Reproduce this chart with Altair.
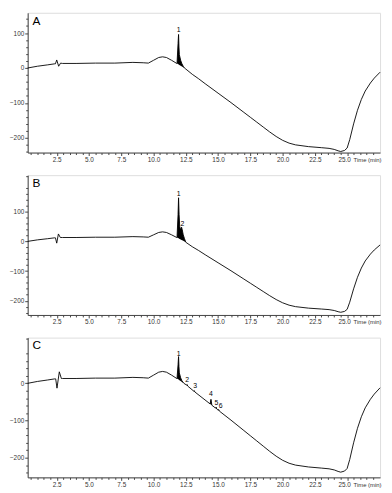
import altair as alt
import pandas as pd

FONT = "Liberation Sans"

# ---- common chromatogram baseline (time in min, signal) ----
base_t = [0.25, 1.0, 1.8, 2.35, 2.95, 4.0, 5.5, 7.0, 8.4, 9.2, 9.6, 10.0, 10.4, 10.7, 11.0,
          11.4, 11.8, 12.0, 12.5, 13.0, 13.5, 14.0, 15.0, 16.0, 17.0, 17.5, 18.0, 18.5, 19.0,
          19.5, 20.0, 20.5, 21.0, 22.0, 23.0, 23.6, 24.0, 24.3, 24.5, 24.8, 25.0, 25.2, 25.5,
          25.8, 26.1, 26.4, 26.8, 27.1, 27.55]
base_v = [0, 5, 9, 12, 13, 13, 14, 14, 16, 15, 14, 22, 30, 32, 30,
          22, 13, 9, -3, -18, -31, -45, -72, -99, -127, -141, -155, -169, -183,
          -196, -207, -215, -220, -225, -228, -230, -233, -237, -239, -236, -229, -205, -160,
          -121, -90, -66, -43, -29, -12]

# ---- panel A ----
A_glitch_t = [2.4, 2.5, 2.65, 2.8]
A_glitch_v = [12, 23, 5, 14]
A_peak_t = [11.82, 11.9, 11.94, 11.97, 12.0, 12.1, 12.2, 12.3, 12.42]
A_peak_top = [13, 70, 96, 60, 38, 22, 12, 5, -1]
A_peak_base = [13, 11.1, 10.2, 9.5, 8.8, 6.5, 4.1, 1.8, -1]
A_lab_text = ["1"]
A_lab_t = [11.94]
A_lab_y = [108]

# ---- panel B ----
B_glitch_t = [2.4, 2.5, 2.63, 2.78]
B_glitch_v = [12, -6, 25, 13]
B_peak_t = [11.82, 11.9, 11.94, 11.98, 12.03, 12.1, 12.17, 12.22, 12.3, 12.4, 12.5]
B_peak_top = [13, 90, 147, 90, 50, 38, 48, 40, 22, 9, -3]
B_peak_base = [13, 11.1, 10.2, 9.2, 8.1, 6.4, 4.8, 3.6, 1.7, -0.6, -3]
B_lab_text = ["1", "2"]
B_lab_t = [11.94, 12.24]
B_lab_y = [160, 60]

# ---- panel C ----
C_glitch_t = [2.42, 2.52, 2.7, 2.86]
C_glitch_v = [12, -13, 31, 13]
C_peak_t = [11.82, 11.9, 11.94, 11.97, 12.0, 12.1, 12.2, 12.35,
            12.55, 12.6, 12.65, 13.1, 13.15, 13.2,
            14.38, 14.45, 14.52, 14.8, 14.85, 14.9, 15.0, 15.05, 15.1]
C_peak_top = [13, 50, 72, 45, 28, 15, 7, 0,
              -4.5, -3, -7.5, -20.6, -19.5, -23.2,
              -55.3, -43, -59, -66.6, -64, -69.3, -72, -70.5, -74.7]
C_peak_base = [13, 11.0, 10.1, 9.3, 8.6, 6.1, 3.7, 0,
               -4.5, -6, -7.5, -20.6, -21.9, -23.2,
               -55.3, -57.2, -59, -66.6, -68, -69.3, -72, -73.4, -74.7]
C_lab_text = ["1", "2", "3", "4", "5", "6"]
C_lab_t = [11.95, 12.6, 13.22, 14.45, 14.88, 15.2]
C_lab_y = [79, 8, -8, -30, -52, -60]

x_major = [2.5, 5.0, 7.5, 10.0, 12.5, 15.0, 17.5, 20.0, 22.5, 25.0]
x_minor = [v / 2 for v in range(1, 56) if v % 5 != 0]
x_domain = [0.25, 27.55]

W = 358
H = 142


def panel(letter, g_t, g_v, p_t, p_top, p_base, l_text, l_t, l_y, ydom, yticks):
    lo, hi = min(p_t), max(p_t)
    glo, ghi = min(g_t), max(g_t)
    pts = [(t, v) for t, v in zip(base_t, base_v)
           if not (lo <= t <= hi) and not (glo <= t <= ghi)]
    pts += list(zip(g_t, g_v)) + list(zip(p_t, p_top))
    pts.sort()
    line_df = pd.DataFrame(pts, columns=["t", "v"])
    peak_df = pd.DataFrame({"t": p_t, "top": p_top, "base": p_base})
    lab_df = pd.DataFrame({"t": l_t, "v": l_y, "txt": l_text})
    let_df = pd.DataFrame({"txt": [letter]})

    xs = alt.Scale(domain=x_domain, nice=False, zero=False)
    ys = alt.Scale(domain=ydom, nice=False, zero=False)
    y_minor = [v for v in range(-300, 301, 20) if v % 100 != 0 and ydom[0] <= v <= ydom[1]]

    x_axis = alt.Axis(values=x_major, format=".1f", tickSize=3, labelFontSize=6.5,
                      labelPadding=1, labelFont=FONT, labelColor="#333", grid=False,
                      labelOffset={"condition": {"test": "datum.value >= 25", "value": -3},
                                   "value": 0},
                      domainColor="#444", tickColor="#444", title="Time (min)",
                      titleFont=FONT, titleFontSize=6, titleFontWeight="normal",
                      titleColor="#333", titleAlign="right", titleBaseline="top",
                      titleX=W + 1, titleY=4, orient="bottom")
    y_axis = alt.Axis(values=yticks, tickSize=3, labelFontSize=6.5, labelPadding=1,
                      labelFont=FONT, labelColor="#333", grid=False, domainColor="#444",
                      tickColor="#444", title=None, orient="left")

    line = alt.Chart(line_df).mark_line(color="black", strokeWidth=0.9).encode(
        x=alt.X("t:Q", scale=xs, axis=x_axis),
        y=alt.Y("v:Q", scale=ys, axis=y_axis),
    )
    minor = alt.Chart(line_df).mark_point(opacity=0).encode(
        x=alt.X("t:Q", scale=xs, axis=alt.Axis(values=x_minor, labels=False, tickSize=2,
                                                domain=False, grid=False, title=None,
                                                tickColor="#444", orient="bottom")),
        y=alt.Y("v:Q", scale=ys, axis=alt.Axis(values=y_minor, labels=False, tickSize=2,
                                                domain=False, grid=False, title=None,
                                                tickColor="#444", orient="left")),
    )
    area = alt.Chart(peak_df).mark_area(color="black", interpolate="linear").encode(
        x=alt.X("t:Q", scale=xs, axis=None),
        y=alt.Y("top:Q", scale=ys, axis=None),
        y2="base:Q",
    )
    labels = alt.Chart(lab_df).mark_text(font=FONT, fontSize=7, fill="black",
                                          baseline="middle").encode(
        x=alt.X("t:Q", scale=xs, axis=None),
        y=alt.Y("v:Q", scale=ys, axis=None),
        text="txt:N",
    )
    letter_mark = alt.Chart(let_df).mark_text(font=FONT, fontSize=12, fill="black",
                                               align="left", baseline="top").encode(
        x=alt.value(5), y=alt.value(3), text="txt:N"
    )
    return alt.layer(line, area, labels, letter_mark, minor).resolve_axis(
        x="independent", y="independent"
    ).properties(width=W, height=H)


pA = panel("A", A_glitch_t, A_glitch_v, A_peak_t, A_peak_top, A_peak_base,
           A_lab_text, A_lab_t, A_lab_y, [-242, 158], [100, 0, -100, -200])
pB = panel("B", B_glitch_t, B_glitch_v, B_peak_t, B_peak_top, B_peak_base,
           B_lab_text, B_lab_t, B_lab_y, [-248, 223], [100, 0, -100, -200])
pC = panel("C", C_glitch_t, C_glitch_v, C_peak_t, C_peak_top, C_peak_base,
           C_lab_text, C_lab_t, C_lab_y, [-253, 123], [0, -100, -200])

chart = alt.vconcat(pA, pB, pC, spacing=11).properties(padding=0).configure_view(
    stroke="#888", strokeWidth=1
).configure(background="white")

chart.save("out.html", embed_options={"renderer": "svg", "actions": False})
